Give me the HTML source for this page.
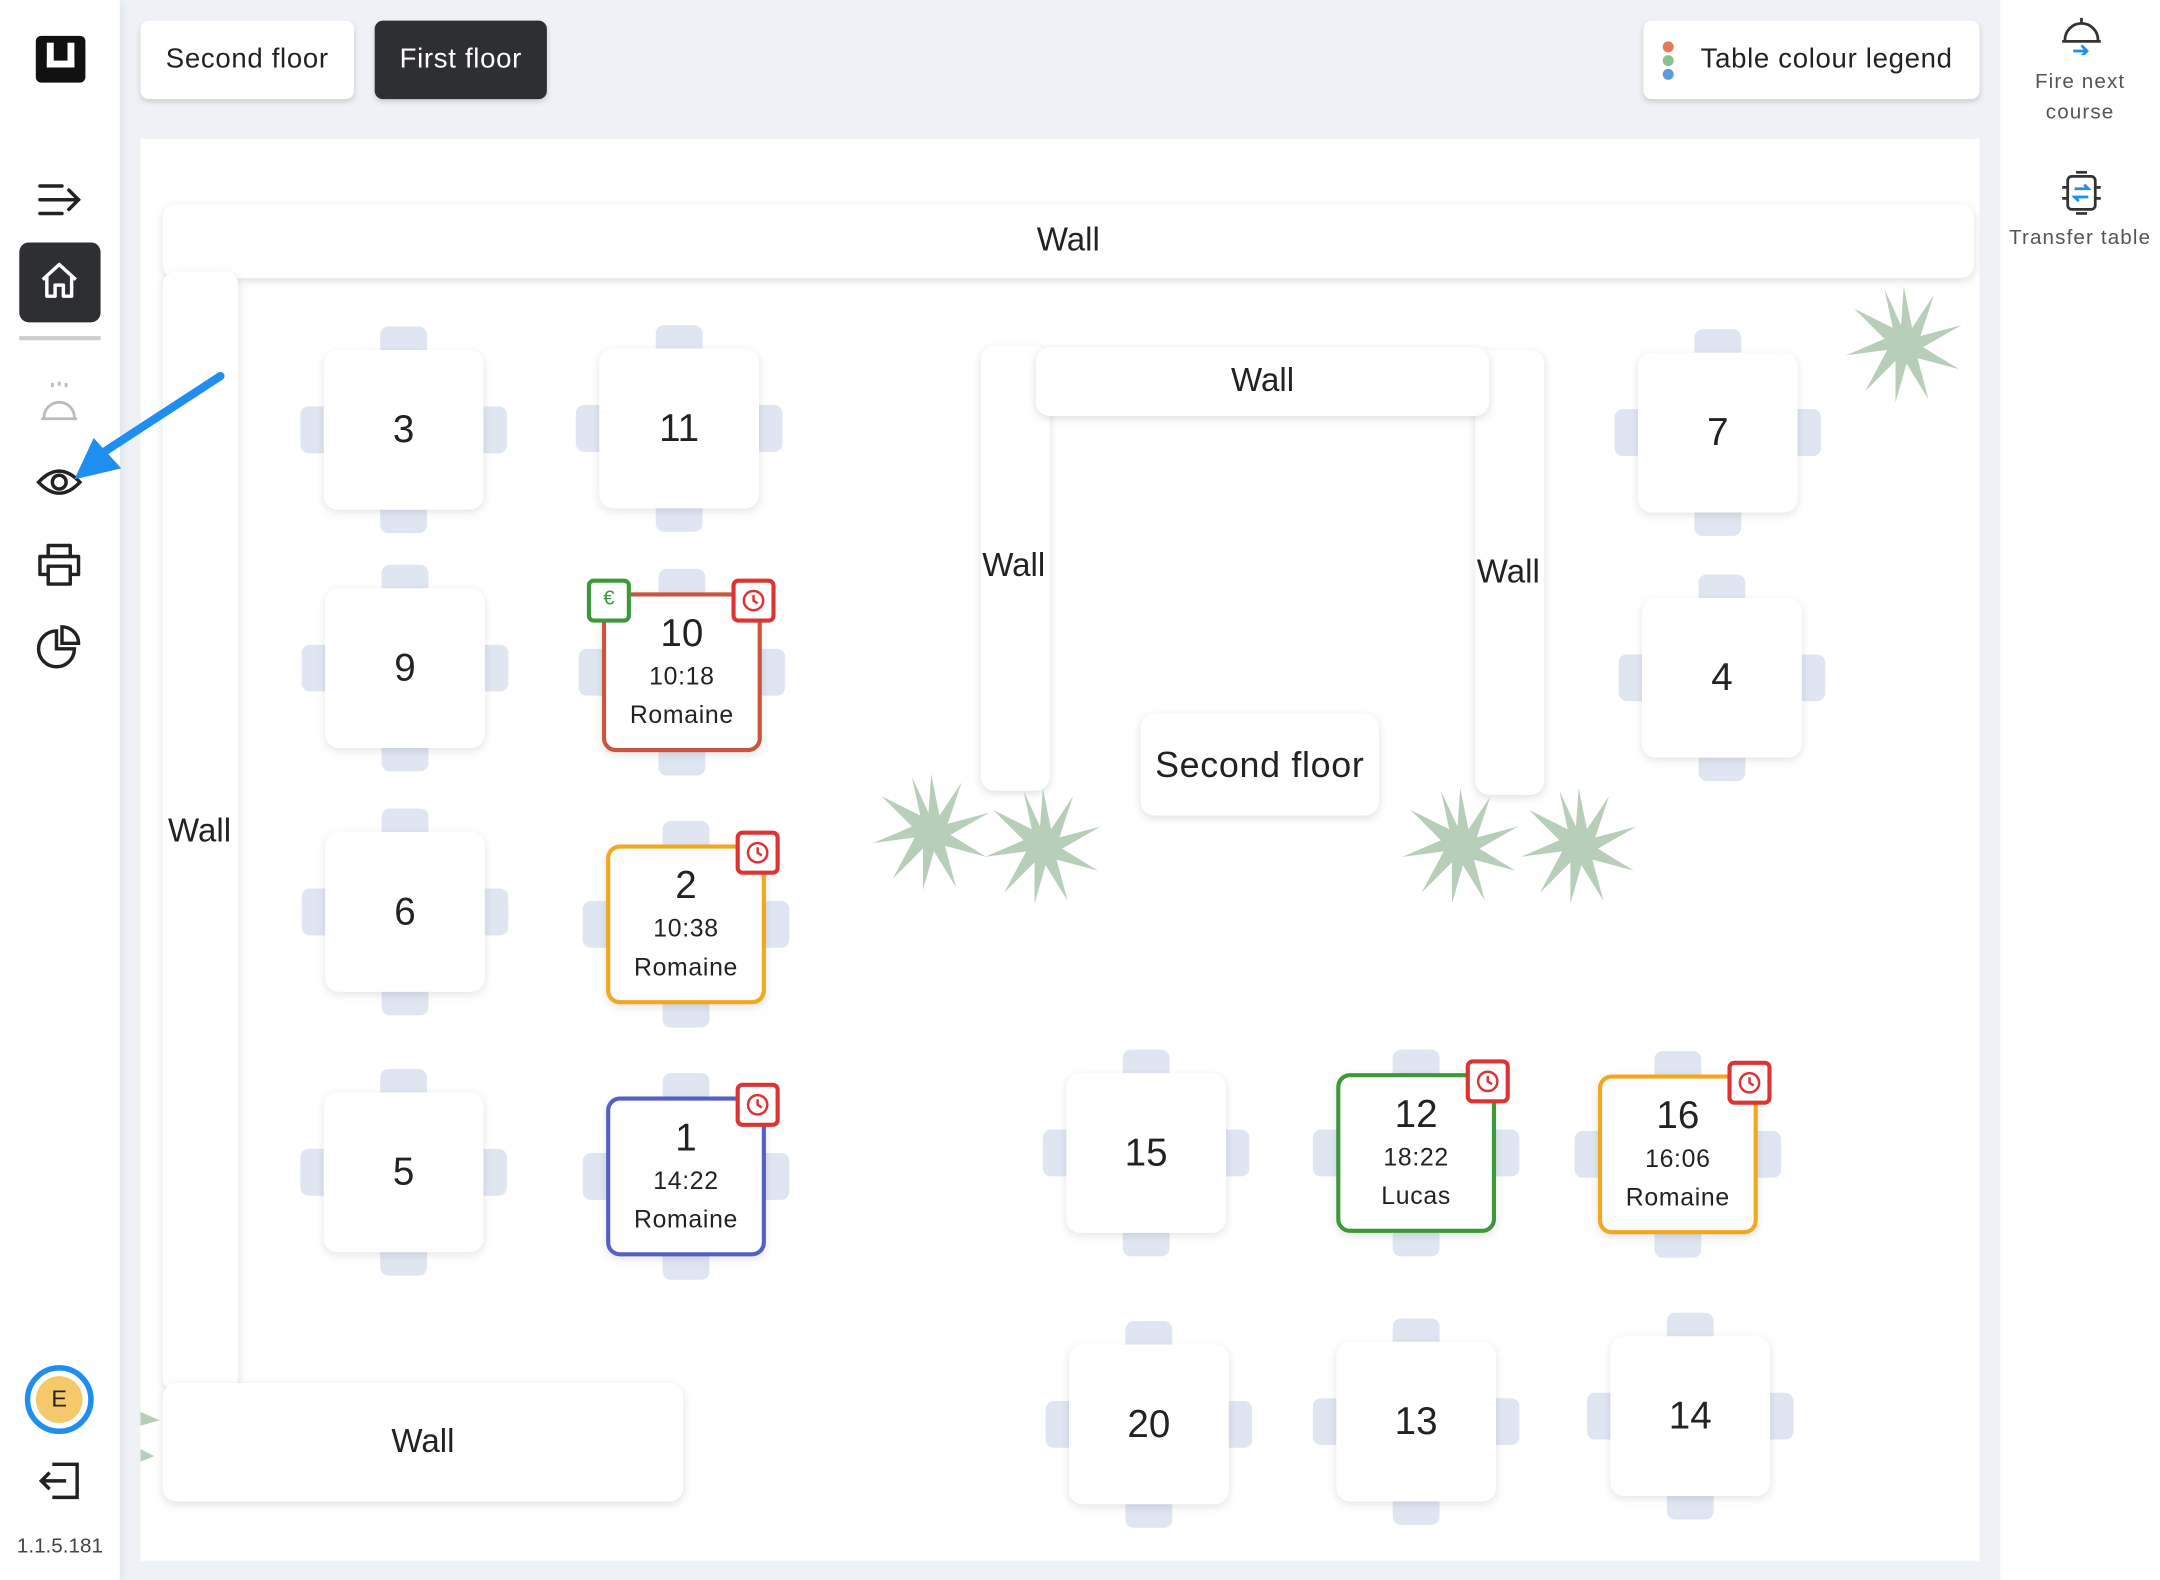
<!DOCTYPE html>
<html><head><meta charset="utf-8"><style>
*{box-sizing:border-box;margin:0;padding:0}
html,body{width:2160px;height:1580px;overflow:hidden;background:#eef1f6;font-family:"Liberation Sans",sans-serif}
#s{position:absolute;left:0;top:0;width:1568px;height:1147px;transform:scale(1.37755);transform-origin:0 0;background:#eef1f6;color:#222}
.a{position:absolute}
.btn{position:absolute;top:15px;height:57px;border-radius:6px;background:#fff;box-shadow:0 2px 4px rgba(0,0,0,.15);font-size:20px;line-height:57px;text-align:center;letter-spacing:.5px}
.wall{position:absolute;background:#fff;border-radius:10px;box-shadow:0 2px 6px rgba(0,0,0,.12);font-size:24px;display:flex;align-items:center;justify-content:center}
.w{position:absolute;width:0;height:0}
.c{position:absolute;background:#dfe5f1;border-radius:6px}
.ct{left:-17px;top:-75px;width:34px;height:24px}
.cb{left:-17px;top:51px;width:34px;height:24px}
.cl{left:-75px;top:-17px;width:24px;height:34px}
.cr{left:51px;top:-17px;width:24px;height:34px}
.t{position:absolute;left:-58px;top:-58px;width:116px;height:116px;background:#fff;border-radius:10px;box-shadow:0 2px 6px rgba(0,0,0,.1);display:flex;flex-direction:column;align-items:center;justify-content:center;font-size:28px}
.t small{font-size:18px;line-height:28px;letter-spacing:.5px}
.t b{font-weight:normal;font-size:28px;line-height:34px}
.bd{position:absolute;width:32px;height:32px;background:#fff;border:3px solid #d33;border-radius:5px}
.side{position:absolute;left:0;top:0;width:87px;height:1147px;background:#fff;box-shadow:2px 0 6px rgba(0,0,0,.06)}
.rp{position:absolute;left:1452px;top:0;width:116px;height:1147px;background:#fff}
.rp div{position:absolute;width:116px;text-align:center;font-size:15px;color:#555;letter-spacing:.8px;line-height:22px}
</style></head><body><div id="s">
<div class="side">
 <div class="a" style="left:26px;top:26px;width:36px;height:34px;background:#111;border-radius:4px"></div>
 <div class="a" style="left:34px;top:31px;width:20px;height:18px;border:5px solid #fff;border-top:none"></div>
 <svg class="a" style="left:26px;top:130px" width="36" height="30" viewBox="0 0 36 30" fill="none" stroke="#222" stroke-width="2.5" stroke-linecap="round"><path d="M3 5h16M3 15h28M3 25h16M24 8l7 7-7 7"/></svg>
 <div class="a" style="left:14px;top:176px;width:59px;height:58px;background:#2d2f33;border-radius:7px"></div>
 <svg class="a" style="left:28px;top:189px" width="30" height="30" viewBox="0 0 30 30" fill="none" stroke="#fff" stroke-width="2.5" stroke-linejoin="round"><path d="M3 14L15 3l12 11M6 12v14h6v-8h6v8h6V12"/></svg>
 <div class="a" style="left:14px;top:244px;width:59px;height:3px;background:#ccc"></div>
 <svg class="a" style="left:26px;top:274px" width="34" height="34" viewBox="0 0 34 34" fill="none" stroke="#bbb" stroke-width="2"><path d="M4 30h26M6 29a11 11 0 0 1 22 0M12 4v3M17 3v3M22 4v3"/></svg>
 <svg class="a" style="left:26px;top:336px" width="34" height="28" viewBox="0 0 34 28" fill="none" stroke="#222" stroke-width="2.5"><path d="M2 14Q17 -2 32 14Q17 30 2 14z"/><circle cx="17" cy="14" r="5"/></svg>
 <svg class="a" style="left:26px;top:393px" width="34" height="34" viewBox="0 0 34 34" fill="none" stroke="#222" stroke-width="2.5" stroke-linejoin="round"><path d="M9 10V3h16v7M9 24H3V11h28v13h-6M9 18h16v13H9z"/></svg>
 <svg class="a" style="left:26px;top:452px" width="34" height="34" viewBox="0 0 34 34" fill="none" stroke="#222" stroke-width="2.5"><path d="M15 6a13 13 0 1 0 13 13H15z"/><path d="M19 3a12 12 0 0 1 12 12H19z"/></svg>
 <div class="a" style="left:18px;top:991px;width:50px;height:50px;border-radius:50%;border:4px solid #1e8ef0;background:#fff"></div>
 <div class="a" style="left:26px;top:999px;width:34px;height:34px;border-radius:50%;background:#f5c96a;text-align:center;line-height:34px;font-size:17px">E</div>
 <svg class="a" style="left:26px;top:1060px" width="34" height="30" viewBox="0 0 34 30" fill="none" stroke="#222" stroke-width="2.5"><path d="M12 3h18v24H12M22 15H4M10 9l-6 6 6 6"/></svg>
 <div class="a" style="left:0;top:1114px;width:87px;text-align:center;font-size:15px;color:#444">1.1.5.181</div>
</div>
<div class="btn" style="left:102px;width:155px">Second floor</div>
<div class="btn" style="left:272px;width:125px;background:#2d2f33;color:#fff">First floor</div>
<div class="btn" style="left:1193px;width:244px;padding-left:22px">Table colour legend</div>
<div class="a" style="left:1207px;top:30px;width:8px;height:8px;border-radius:50%;background:#e8775a"></div>
<div class="a" style="left:1207px;top:40px;width:8px;height:8px;border-radius:50%;background:#8bc08b"></div>
<div class="a" style="left:1207px;top:50px;width:8px;height:8px;border-radius:50%;background:#5b9be0"></div>
<div class="rp">
 <svg class="a" style="left:43px;top:12px" width="32" height="28" viewBox="0 0 32 28" fill="none" stroke="#333" stroke-width="2"><path d="M2 18h28M4 17a12 12 0 0 1 24 0M16 1v4"/><path d="M10 25h10M16 21l4 4-4 4" stroke="#1e8ef0"/></svg>
 <div style="top:49px">Fire next<br>course</div>
 <svg class="a" style="left:43px;top:124px" width="32" height="32" viewBox="0 0 32 32" fill="none" stroke="#333" stroke-width="2"><rect x="6" y="4" width="20" height="24" rx="3"/><path d="M2 12h4M2 20h4M26 12h4M26 20h4M12 1h8M12 31h8"/><path d="M11 13h10l-3-3M21 19H11l3 3" stroke="#1e8ef0"/></svg>
 <div style="top:162px">Transfer table</div>
</div>
<div class="a" style="left:102px;top:101px;width:1335px;height:1032px;background:#fff"></div>
<div class="wall" style="left:118px;top:148px;width:1315px;height:54px">Wall</div>
<div class="wall" style="left:118px;top:197px;width:55px;height:813px;justify-content:flex-start;padding-left:4px">Wall</div>
<div class="wall" style="left:118px;top:1004px;width:378px;height:86px">Wall</div>
<div class="wall" style="left:712px;top:251px;width:50px;height:323px;justify-content:flex-start;padding-left:1px;padding-bottom:0"><span style="position:relative;top:-2px">Wall</span></div>
<div class="wall" style="left:1071px;top:254px;width:50px;height:323px;justify-content:flex-start;padding-left:1px">Wall</div>
<div class="wall" style="left:752px;top:252px;width:329px;height:50px">Wall</div>
<div class="wall" style="left:828px;top:518px;width:173px;height:74px;font-size:26px;letter-spacing:.5px">Second floor</div>
<svg class="a" style="left:0;top:0" width="1568" height="1147">
<defs><g id="p" fill="#b7cfb9"><path d="M0 -42L6 -12L22 -36L12 -6L42 -14L14 2L40 18L10 10L18 40L2 14L-6 42L-6 12L-28 34L-12 4L-42 8L-14 -4L-36 -26L-8 -12L-14 -40L-2 -14z"/></g></defs>
<use href="#p" x="1382" y="250"/><use href="#p" x="676" y="604"/><use href="#p" x="757" y="614"/><use href="#p" x="1060" y="614"/><use href="#p" x="1146" y="614"/>
<path d="M102 1025l14 6-14 4zM102 1052l10 5-10 4z" fill="#b7cfb9"/>
</svg>
<div class="w" style="left:293px;top:312px"><i class="c ct"></i><i class="c cb"></i><i class="c cl"></i><i class="c cr"></i><div class="t">3</div></div>
<div class="w" style="left:493px;top:311px"><i class="c ct"></i><i class="c cb"></i><i class="c cl"></i><i class="c cr"></i><div class="t">11</div></div>
<div class="w" style="left:294px;top:485px"><i class="c ct"></i><i class="c cb"></i><i class="c cl"></i><i class="c cr"></i><div class="t">9</div></div>
<div class="w" style="left:495px;top:488px"><i class="c ct"></i><i class="c cb"></i><i class="c cl"></i><i class="c cr"></i><div class="t" style="border:3px solid #c9553d"><b>10</b><small>10:18</small><small>Romaine</small></div></div>
<div class="w" style="left:294px;top:662px"><i class="c ct"></i><i class="c cb"></i><i class="c cl"></i><i class="c cr"></i><div class="t">6</div></div>
<div class="w" style="left:498px;top:671px"><i class="c ct"></i><i class="c cb"></i><i class="c cl"></i><i class="c cr"></i><div class="t" style="border:3px solid #f2a81d"><b>2</b><small>10:38</small><small>Romaine</small></div></div>
<div class="w" style="left:293px;top:851px"><i class="c ct"></i><i class="c cb"></i><i class="c cl"></i><i class="c cr"></i><div class="t">5</div></div>
<div class="w" style="left:498px;top:854px"><i class="c ct"></i><i class="c cb"></i><i class="c cl"></i><i class="c cr"></i><div class="t" style="border:3px solid #5560c4"><b>1</b><small>14:22</small><small>Romaine</small></div></div>
<div class="w" style="left:1247px;top:314px"><i class="c ct"></i><i class="c cb"></i><i class="c cl"></i><i class="c cr"></i><div class="t">7</div></div>
<div class="w" style="left:1250px;top:492px"><i class="c ct"></i><i class="c cb"></i><i class="c cl"></i><i class="c cr"></i><div class="t">4</div></div>
<div class="w" style="left:832px;top:837px"><i class="c ct"></i><i class="c cb"></i><i class="c cl"></i><i class="c cr"></i><div class="t">15</div></div>
<div class="w" style="left:1028px;top:837px"><i class="c ct"></i><i class="c cb"></i><i class="c cl"></i><i class="c cr"></i><div class="t" style="border:3px solid #3a9a3a"><b>12</b><small>18:22</small><small>Lucas</small></div></div>
<div class="w" style="left:1218px;top:838px"><i class="c ct"></i><i class="c cb"></i><i class="c cl"></i><i class="c cr"></i><div class="t" style="border:3px solid #f2a81d"><b>16</b><small>16:06</small><small>Romaine</small></div></div>
<div class="w" style="left:834px;top:1034px"><i class="c ct"></i><i class="c cb"></i><i class="c cl"></i><i class="c cr"></i><div class="t">20</div></div>
<div class="w" style="left:1028px;top:1032px"><i class="c ct"></i><i class="c cb"></i><i class="c cl"></i><i class="c cr"></i><div class="t">13</div></div>
<div class="w" style="left:1227px;top:1028px"><i class="c ct"></i><i class="c cb"></i><i class="c cl"></i><i class="c cr"></i><div class="t">14</div></div>
<div class="bd" style="left:426px;top:420px;border-color:#3a9a3a;color:#3a9a3a;font-size:15px;text-align:center;line-height:24px">€</div>
<div class="bd" style="left:531px;top:420px"></div>
<div class="bd" style="left:534px;top:603px"></div>
<div class="bd" style="left:534px;top:786px"></div>
<div class="bd" style="left:1064px;top:769px"></div>
<div class="bd" style="left:1254px;top:770px"></div>
<svg class="a" style="left:0;top:0" width="1568" height="1147" fill="none" stroke="#d33" stroke-width="1.8">
<g><circle cx="547" cy="436" r="7"/><path d="M547 432v4l3 2"/></g>
<g><circle cx="550" cy="619" r="7"/><path d="M550 615v4l3 2"/></g>
<g><circle cx="550" cy="802" r="7"/><path d="M550 798v4l3 2"/></g>
<g><circle cx="1080" cy="785" r="7"/><path d="M1080 781v4l3 2"/></g>
<g><circle cx="1270" cy="786" r="7"/><path d="M1270 782v4l3 2"/></g>
</svg>
<svg class="a" style="left:40px;top:265px" width="130" height="90"><path d="M120 8L28 68" stroke="#1e8ef0" stroke-width="6" stroke-linecap="round"/><path d="M14 83l14-30 20 22z" fill="#1e8ef0"/></svg>
</div></body></html>
